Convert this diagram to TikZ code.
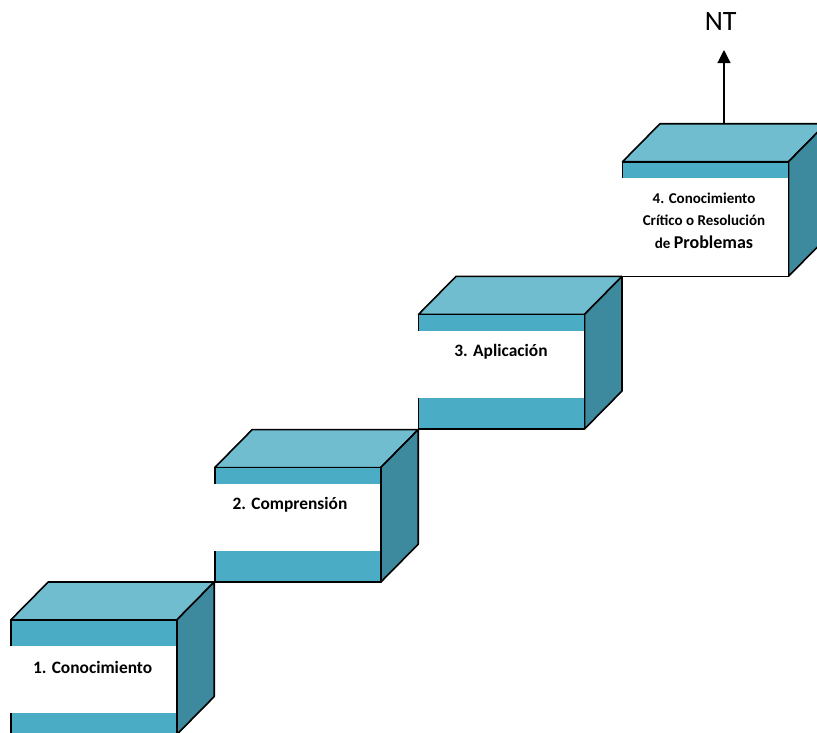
\documentclass[tikz,border=0pt]{standalone}
\usepackage{fontspec}
\setmainfont{Carlito}
\usetikzlibrary{arrows.meta,positioning,calc}
\definecolor{topblue}{HTML}{71BDD0}
\definecolor{frontblue}{HTML}{4BACC6}
\definecolor{sideblue}{HTML}{3D8A9E}
% #1 name, #2 front top-left corner, #3/#4 top/bottom of the white band
\newcommand{\cubo}[4]{%
 \coordinate (#1) at #2;
 \filldraw[face,fill=topblue] (#1) -- ++(37.5,-38) -- ++(166,0) -- ++(-37.5,38) -- cycle;
 \filldraw[face,fill=sideblue] ($(#1)+(166,0)$) -- ++(37.5,-38) -- ++(0,114.6) -- ++(-37.5,38) -- cycle;
 \fill[frontblue] (#1) rectangle ++(166,114.6);
 \fill[white] ($(#1)+(-1,#3)$) rectangle ($(#1)+(165,#4)$);
 \draw[face] ($(#1)+(0,#3)$) |- ++(166,-#3) |- ($(#1)+(0,114.6)$) -- ++(0,#4-114.6);
}

\begin{document}
\begin{tikzpicture}[x=1pt,y=-1pt,>=Latex,
 face/.style={draw=black,line width=1.6pt,line join=round},
 lab/.style={font=\bfseries\fontsize{17.4}{20}\selectfont,inner sep=0pt}]
\useasboundingbox (0,0) rectangle (817,732);
\clip (0,0) rectangle (817,732);
\cubo{c1}{(10.7,620)}{26}{93}
\cubo{c2}{(214.7,467.6)}{16.3}{83.3}
\cubo{c3}{(418.5,314.4)}{16.4}{84}
\cubo{c4}{(622.5,161.7)}{16}{114.6}
\node[lab] (l1) at (92.6,667) {1. Conocimiento};
\node[lab] (l2) at (290,505) {2. Comprensión};
\node[lab] (l3) at (501,352) {3. Aplicación};
\node[lab,align=center,font=\bfseries\fontsize{15}{21.5}\selectfont] (l4) at (704,221)
 {4. Conocimiento\\Crítico o Resolución\\[2.4pt]de {\fontsize{18}{21.5}\selectfont Problemas}};
\node[font=\fontsize{28}{28}\selectfont,inner sep=0pt] (nt) at (720.7,22) {NT};
\coordinate (c4top) at (724,124);
\coordinate (tip) at (724,50);
\draw[-{Triangle[length=13pt,width=13pt]},line width=1.2pt] (c4top) -- (tip);
\end{tikzpicture}
\end{document}
